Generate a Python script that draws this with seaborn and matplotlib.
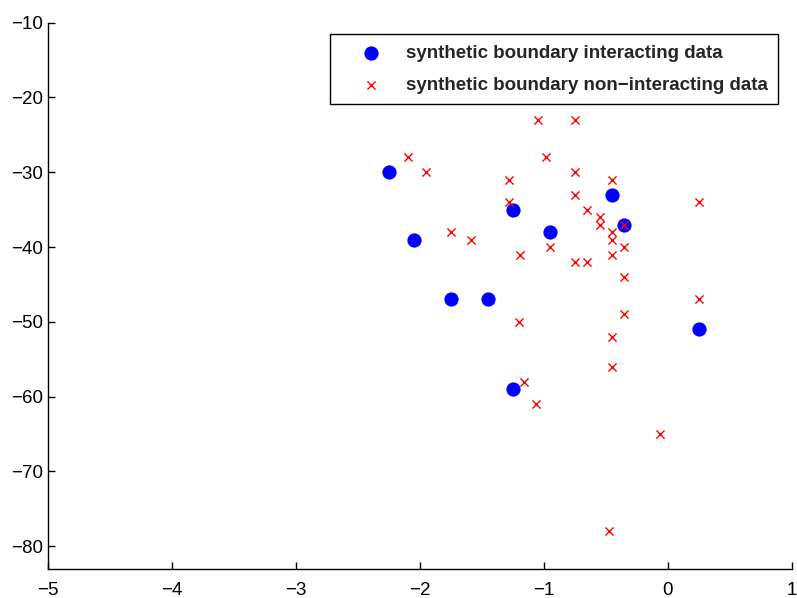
import numpy as np
import pandas as pd
import seaborn as sns
import matplotlib.pyplot as plt

# values
interact_x = [-2.25, -2.05, -1.75, -1.45, -1.25, -1.25, -0.95, -0.45, -0.35, 0.25]
interact_y = [-30, -39, -47, -47, -35, -59, -38, -33, -37, -51]

noninteract_x = [-1.05, -0.75, -2.10, -0.98, -1.95, -0.75, -1.28, -0.45, -0.75, -1.28,
                 0.25, -0.65, -0.55, -0.55, -0.35, -1.75, -0.45, -1.59, -0.45, -0.95,
                 -0.35, -1.19, -0.45, -0.75, -0.65, -0.35, 0.25, -0.35, -1.20, -0.45,
                 -0.45, -1.16, -1.06, -0.06, -0.47]
noninteract_y = [-23, -23, -28, -28, -30, -30, -31, -31, -33, -34,
                 -34, -35, -36, -37, -37, -38, -38, -39, -39, -40,
                 -40, -41, -41, -42, -42, -44, -47, -49, -50, -52,
                 -56, -58, -61, -65, -78]

x_ticks = [-5, -4, -3, -2, -1, 0, 1]
y_ticks = [-80, -70, -60, -50, -40, -30, -20, -10]

sns.set_style("ticks")
plt.rcParams['font.family'] = ['Liberation Sans', 'DejaVu Sans']

fig = plt.figure(figsize=(7.97, 5.98), dpi=100)
ax = fig.add_axes([0.0606, 0.048, 0.9325, 0.914])

df_a = pd.DataFrame({"x": interact_x, "y": interact_y})
df_b = pd.DataFrame({"x": noninteract_x, "y": noninteract_y})

sns.scatterplot(data=df_a, x="x", y="y", ax=ax, marker="o", color="#0000ff",
                s=105, edgecolor="#0000ff", linewidth=0,
                label="synthetic boundary interacting data")
sns.scatterplot(data=df_b, x="x", y="y", ax=ax, marker="x", color="#ff0000",
                s=34, linewidth=1.0,
                label="synthetic boundary non\u2212interacting data")

ax.set_xlim(-5, 1)
ax.set_ylim(-83.1, -10)
ax.set_xticks(x_ticks)
ax.set_yticks(y_ticks)
ax.set_xticklabels([f"{t}".replace("-", "\u2212") for t in x_ticks])
ax.set_yticklabels([f"{t}".replace("-", "\u2212") for t in y_ticks])
ax.tick_params(direction="in", length=5, width=1, labelsize=13.5, colors="black")
ax.tick_params(axis="x", pad=9)
ax.tick_params(axis="y", pad=4)
ax.set_xlabel("")
ax.set_ylabel("")
sns.despine(ax=ax)
for sp in ["left", "bottom"]:
    ax.spines[sp].set_color("black")
    ax.spines[sp].set_linewidth(1)

leg = ax.legend(loc="upper left", bbox_to_anchor=(0.379, 0.979), fancybox=False,
                framealpha=1, edgecolor="black", prop={"weight": "bold", "size": 13.5},
                borderpad=0.55, labelspacing=0.8, handlelength=3.25, handletextpad=0.25,
                borderaxespad=0, markerscale=1.0)
leg.get_frame().set_linewidth(1)

fig.savefig("out.png", dpi=100)
